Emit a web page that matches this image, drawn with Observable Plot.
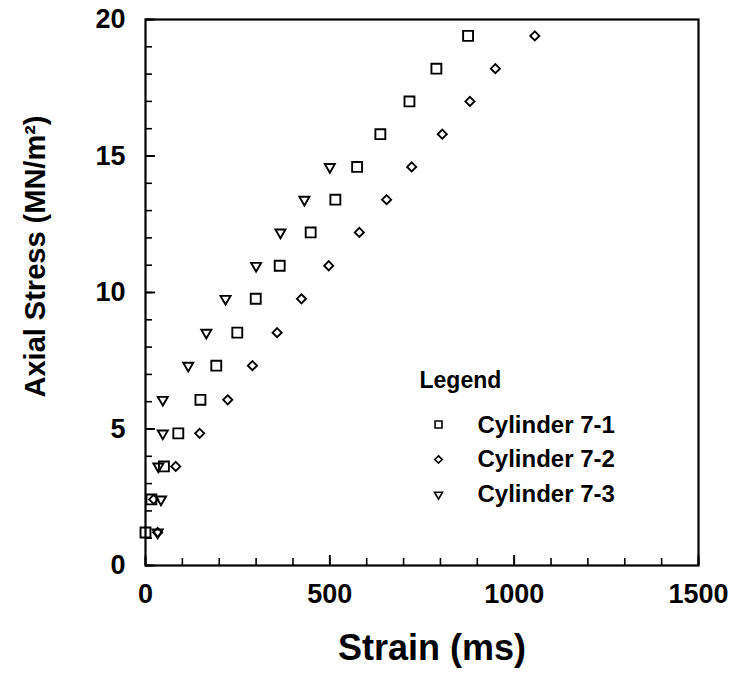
<!DOCTYPE html>
<html><head><meta charset="utf-8">
<script src="https://cdn.jsdelivr.net/npm/d3@7"></script>
<script src="https://cdn.jsdelivr.net/npm/@observablehq/plot@0.6"></script>
<style>
html,body{margin:0;padding:0;background:#fff;}
#chart svg{display:block;}
</style>
</head><body><div id="chart"></div>
<script>
// ---- data ----
const stress = [1.21, 2.42, 3.63, 4.84, 6.07, 7.32, 8.53, 9.77, 10.98, 12.2, 13.4, 14.6, 15.8, 17.0, 18.2, 19.4];
const strain71 = [0, 16, 50, 89, 149, 192, 249, 299, 364, 448, 515, 574, 637, 716, 789, 875];
const strain72 = [33, 22, 82, 147, 223, 290, 357, 423, 497, 580, 654, 722, 805, 880, 949, 1056];
const strain73 = [33, 42, 35, 47, 47, 116, 165, 217, 300, 366, 431, 500];
const seriesNames = ["Cylinder 7-1", "Cylinder 7-2", "Cylinder 7-3"];
const xTicks = [0, 500, 1000, 1500];
const yTicks = [0, 5, 10, 15, 20];
const xMinorTicks = d3.range(0, 1501, 100);
const yMinorTicks = d3.range(0, 21, 1);
const xLabel = "Strain (ms)";
const yLabel = "Axial Stress (MN/m²)";
const legendTitle = "Legend";

// ---- layout ----
const W = 732, H = 675, ML = 145, MR = 34, MT = 19, MB = 110;
const FW = W - ML - MR, FH = H - MT - MB;

// ---- build tables ----
const strains = [strain71, strain72, strain73];
const rows = strains.map((arr, s) => arr.map((v, i) => ({series: seriesNames[s], strain: v, stress: stress[i]})));

const font = "'Liberation Sans', Arial, Helvetica, sans-serif";
const symStyle = [
  {symbol: "square", r: 5.6, rotate: 0, lr: 3.9},
  {symbol: "diamond2", r: 4.1, rotate: 0, lr: 3.3},
  {symbol: "triangle2", r: 4.8, rotate: 180, lr: 3.8}
];
const fmt = d => String(d);

const marks = [];
// inward ticks along bottom and left edges
marks.push(Plot.tickX(xMinorTicks, {x: d => d, insetTop: FH - 7, stroke: "black", strokeWidth: 1.6}));
marks.push(Plot.tickX(xTicks, {x: d => d, insetTop: FH - 10, stroke: "black", strokeWidth: 1.9}));
marks.push(Plot.tickY(yMinorTicks, {y: d => d, insetRight: FW - 7, stroke: "black", strokeWidth: 1.6}));
marks.push(Plot.tickY(yTicks, {y: d => d, insetRight: FW - 10, stroke: "black", strokeWidth: 1.9}));
marks.push(Plot.frame({stroke: "black", strokeWidth: 2.2}));
// tick labels
marks.push(Plot.axisX(xTicks, {anchor: "bottom", tickSize: 0, tickPadding: 18, tickFormat: fmt, fontSize: 27, fontWeight: "bold", label: null}));
marks.push(Plot.axisY(yTicks, {anchor: "left", tickSize: 0, tickPadding: 20, tickFormat: fmt, fontSize: 27, fontWeight: "bold", label: null}));
// axis titles
marks.push(Plot.text([xLabel], {text: d => d, frameAnchor: "bottom", textAnchor: "middle", dx: 10, dy: 94, lineAnchor: "bottom", fontSize: 36, fontWeight: "bold", fill: "black"}));
marks.push(Plot.text([yLabel], {text: d => d, frameAnchor: "left", textAnchor: "middle", rotate: -90, dx: -110, dy: -36, lineAnchor: "middle", fontSize: 29, fontWeight: "bold", fill: "black"}));

// data points
rows.forEach((data, s) => {
  marks.push(Plot.dot(data, {x: "strain", y: "stress", symbol: symStyle[s].symbol, r: symStyle[s].r, rotate: symStyle[s].rotate, stroke: "black", strokeWidth: 1.9, fill: "none"}));
});

// legend (inside plot)
marks.push(Plot.text([legendTitle], {text: d => d, frameAnchor: "top-left", dx: 274, dy: 368, textAnchor: "start", lineAnchor: "bottom", fontSize: 23, fontWeight: "bold", fill: "black"}));
seriesNames.forEach((name, s) => {
  marks.push(Plot.dot([name], {frameAnchor: "top-left", dx: 293, dy: 405 + s * 35, symbol: symStyle[s].symbol, r: symStyle[s].lr, rotate: symStyle[s].rotate, stroke: "black", strokeWidth: 1.6, fill: "none"}));
  marks.push(Plot.text([name], {text: d => d, frameAnchor: "top-left", dx: 332, dy: 413 + s * 34.8, textAnchor: "start", lineAnchor: "bottom", fontSize: 24, fontWeight: "bold", fill: "black"}));
});

const chart = Plot.plot({
  width: W,
  height: H,
  marginLeft: ML,
  marginRight: MR,
  marginTop: MT,
  marginBottom: MB,
  style: {fontFamily: font, color: "black", background: "white"},
  x: {domain: [0, 1500], axis: null},
  y: {domain: [0, 20], axis: null},
  marks
});
document.getElementById("chart").appendChild(chart);
</script>
</body></html>
